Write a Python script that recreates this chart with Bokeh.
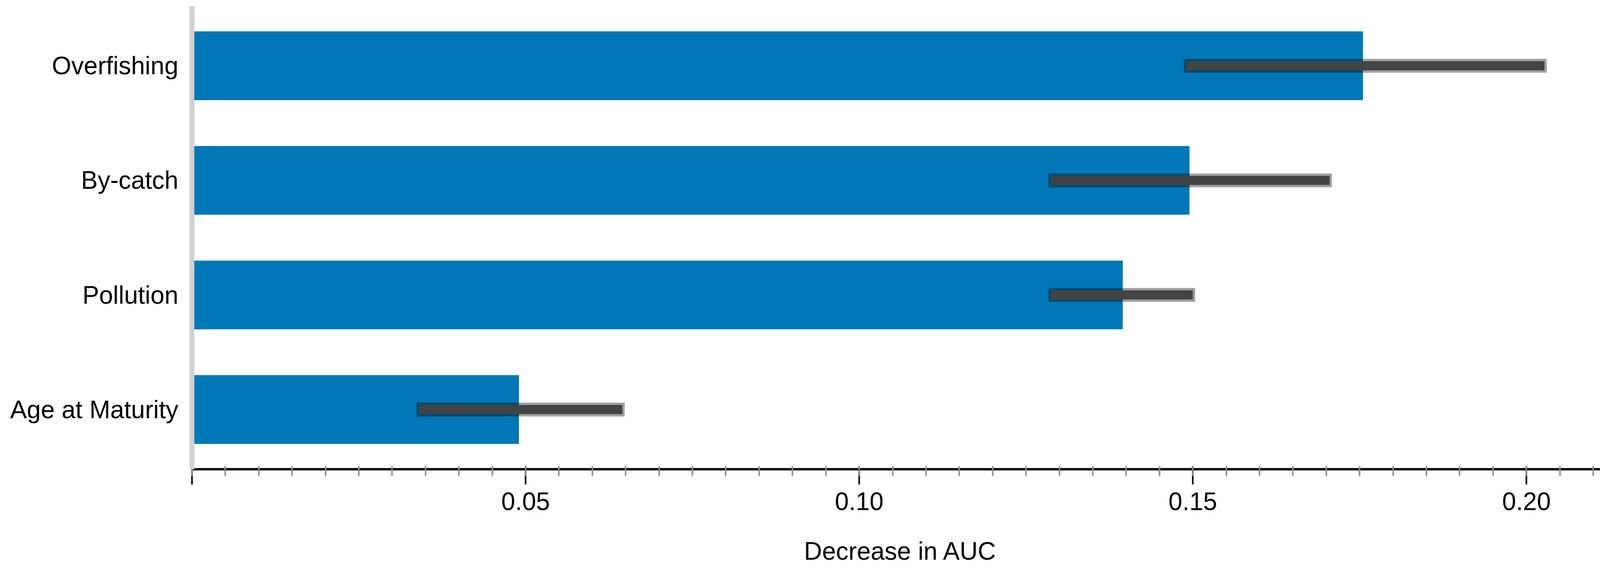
from bokeh.plotting import figure
from bokeh.models import Range1d, FactorRange, SingleIntervalTicker, ColumnDataSource, PrintfTickFormatter
from bokeh.embed import file_html
from bokeh.resources import INLINE

# data
categories = ["Overfishing", "By-catch", "Pollution", "Age at Maturity"]
decrease_auc = [0.1755, 0.1495, 0.1395, 0.0490]
err_low = [0.1490, 0.1287, 0.1287, 0.0340]
err_high = [0.2027, 0.1705, 0.1500, 0.0645]
axis_title = "Decrease in AUC"

FONT = "Liberation Sans"

src = ColumnDataSource(dict(cat=categories, val=decrease_auc, lo=err_low, hi=err_high))

yr = FactorRange(factors=list(reversed(categories)), range_padding=0.021,
                 range_padding_units="absolute")
p = figure(frame_width=3628, frame_height=1185, y_range=yr, x_range=Range1d(0, 0.2124),
           output_backend="svg", toolbar_location=None,
           min_border_left=491, min_border_right=25, min_border_top=15,
           min_border_bottom=260)
p.outline_line_color = None
p.xgrid.grid_line_color = None
p.ygrid.grid_line_color = None
p.background_fill_color = "white"

p.hbar(y="cat", left=0, right="val", height=0.6, source=src,
       fill_color="#0077b6", line_color=None)
# error bar halo + core
p.hbar(y="cat", left="lo", right="hi", height=0.08, source=src,
       fill_color=None, line_color="black", line_alpha=0.37, line_width=12,
       line_join="miter")
p.hbar(y="cat", left="lo", right="hi", height=0.08, source=src,
       fill_color="#444444", line_color=None)

xa = p.xaxis[0]
xa.ticker = SingleIntervalTicker(interval=0.05, num_minor_ticks=10)
xa.formatter = PrintfTickFormatter(format="%.2f")
xa.major_label_overrides = {0: ""}
xa.axis_line_color = "black"
xa.axis_line_width = 6
xa.major_tick_line_color = "black"
xa.major_tick_line_width = 4
xa.major_tick_in = 8
xa.major_tick_out = 39
xa.minor_tick_line_color = "#8f8f8f"
xa.minor_tick_line_width = 4
xa.minor_tick_in = 8
xa.minor_tick_out = 17
xa.major_label_text_font = FONT
xa.major_label_text_font_size = "64px"
xa.major_label_text_color = "black"
xa.major_label_standoff = 20
xa.axis_label = axis_title
xa.axis_label_text_font = FONT
xa.axis_label_text_font_size = "64px"
xa.axis_label_text_font_style = "normal"
xa.axis_label_text_color = "black"
xa.axis_label_standoff = 66

ya = p.yaxis[0]
ya.axis_line_color = "#d0d0d0"
ya.axis_line_width = 12
ya.major_tick_line_color = None
ya.minor_tick_line_color = None
ya.major_tick_out = 0
ya.major_tick_in = 0
ya.major_label_text_font = FONT
ya.major_label_text_font_size = "64px"
ya.major_label_text_color = "black"
ya.major_label_standoff = 35

open("out.html", "w").write(file_html(p, INLINE))
